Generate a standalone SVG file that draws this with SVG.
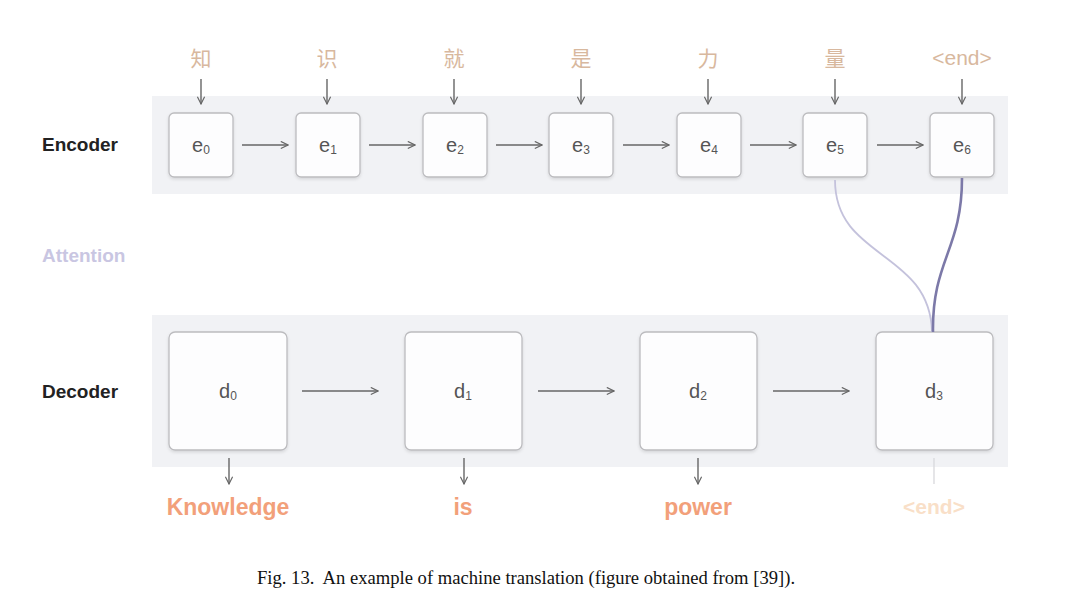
<svg xmlns="http://www.w3.org/2000/svg" width="1079" height="615" viewBox="0 0 1079 615">
<defs>
<marker id="ah" viewBox="0 0 10 10" refX="9" refY="5" markerWidth="9" markerHeight="9" markerUnits="userSpaceOnUse" orient="auto">
<path d="M1,1 L9,5 L1,9" fill="none" stroke="#666" stroke-width="1.3"/>
</marker>
<filter id="sh" x="-10%" y="-10%" width="120%" height="130%">
<feDropShadow dx="0" dy="1.5" stdDeviation="1.5" flood-color="#000" flood-opacity="0.12"/>
</filter>
</defs>
<style>
.band{fill:#f1f2f5}
.box{fill:#fdfdfe;stroke:#bcbcbf;stroke-width:1.3;filter:url(#sh)}
.lbl{font-family:"Liberation Sans",Arial,sans-serif;font-size:20px;fill:#555;text-anchor:middle}
.sub{font-size:12px}
.side{font-family:"Liberation Sans",Arial,sans-serif;font-size:19px;font-weight:bold;fill:#222}
.zh{font-family:"Liberation Sans","Noto Sans CJK SC",sans-serif;font-size:21px;fill:#d8b89e;text-anchor:middle}
.out{font-family:"Liberation Sans",Arial,sans-serif;font-size:23px;font-weight:bold;fill:#f2a07a;text-anchor:middle}
.arr{stroke:#666;stroke-width:1.4;fill:none;marker-end:url(#ah)}
.cap{font-family:"Liberation Serif","Times New Roman",serif;font-size:18.6px;fill:#111}
</style>
<rect x="0" y="0" width="1079" height="615" fill="#ffffff"/>
<rect class="band" x="152" y="96" width="856" height="98"/>
<rect class="band" x="152" y="315" width="856" height="152"/>

<text class="side" x="42" y="151">Encoder</text>
<text class="side" x="42" y="398">Decoder</text>
<text class="side" x="42" y="262" style="fill:#c9c6e2">Attention</text>

<g id="inputs">
<text class="zh" x="201" y="66">知</text>
<text class="zh" x="327" y="66">识</text>
<text class="zh" x="454" y="66">就</text>
<text class="zh" x="581" y="66">是</text>
<text class="zh" x="708" y="66">力</text>
<text class="zh" x="835" y="66">量</text>
<text class="zh" x="962" y="65" style="font-size:21px">&lt;end&gt;</text>
</g>

<g id="e0"><rect class="box" x="169" y="113" width="64" height="64" rx="5"/><text class="lbl" x="201" y="152">e<tspan class="sub" dy="2">0</tspan></text></g>
<g id="e1"><rect class="box" x="296" y="113" width="64" height="64" rx="5"/><text class="lbl" x="328" y="152">e<tspan class="sub" dy="2">1</tspan></text></g>
<g id="e2"><rect class="box" x="423" y="113" width="64" height="64" rx="5"/><text class="lbl" x="455" y="152">e<tspan class="sub" dy="2">2</tspan></text></g>
<g id="e3"><rect class="box" x="549" y="113" width="64" height="64" rx="5"/><text class="lbl" x="581" y="152">e<tspan class="sub" dy="2">3</tspan></text></g>
<g id="e4"><rect class="box" x="677" y="113" width="64" height="64" rx="5"/><text class="lbl" x="709" y="152">e<tspan class="sub" dy="2">4</tspan></text></g>
<g id="e5"><rect class="box" x="803" y="113" width="64" height="64" rx="5"/><text class="lbl" x="835" y="152">e<tspan class="sub" dy="2">5</tspan></text></g>
<g id="e6"><rect class="box" x="930" y="113" width="64" height="64" rx="5"/><text class="lbl" x="962" y="152">e<tspan class="sub" dy="2">6</tspan></text></g>

<g id="d0"><rect class="box" x="169" y="332" width="118" height="118" rx="6"/><text class="lbl" x="228" y="398">d<tspan class="sub" dy="2">0</tspan></text></g>
<g id="d1"><rect class="box" x="405" y="332" width="117" height="118" rx="6"/><text class="lbl" x="463" y="398">d<tspan class="sub" dy="2">1</tspan></text></g>
<g id="d2"><rect class="box" x="640" y="332" width="117" height="118" rx="6"/><text class="lbl" x="698" y="398">d<tspan class="sub" dy="2">2</tspan></text></g>
<g id="d3"><rect class="box" x="876" y="332" width="117" height="118" rx="6"/><text class="lbl" x="934" y="398">d<tspan class="sub" dy="2">3</tspan></text></g>

<g id="outputs">
<text class="out" x="228" y="515">Knowledge</text>
<text class="out" x="463" y="515">is</text>
<text class="out" x="698" y="515">power</text>
<text class="out" x="934" y="514" style="fill:#f9dfc8;font-size:21px">&lt;end&gt;</text>
</g>

<g id="connectors">
<line class="arr" x1="201" y1="79" x2="201" y2="104"/>
<line class="arr" x1="327" y1="79" x2="327" y2="104"/>
<line class="arr" x1="454" y1="79" x2="454" y2="104"/>
<line class="arr" x1="581" y1="79" x2="581" y2="104"/>
<line class="arr" x1="708" y1="79" x2="708" y2="104"/>
<line class="arr" x1="835" y1="79" x2="835" y2="104"/>
<line class="arr" x1="962" y1="79" x2="962" y2="104"/>

<line class="arr" x1="242" y1="145" x2="288" y2="145"/>
<line class="arr" x1="369" y1="145" x2="415" y2="145"/>
<line class="arr" x1="496" y1="145" x2="542" y2="145"/>
<line class="arr" x1="623" y1="145" x2="669" y2="145"/>
<line class="arr" x1="750" y1="145" x2="796" y2="145"/>
<line class="arr" x1="877" y1="145" x2="923" y2="145"/>

<line class="arr" x1="302" y1="391" x2="378" y2="391"/>
<line class="arr" x1="538" y1="391" x2="614" y2="391"/>
<line class="arr" x1="773" y1="391" x2="849" y2="391"/>

<line class="arr" x1="229" y1="458" x2="229" y2="484"/>
<line class="arr" x1="464" y1="458" x2="464" y2="484"/>
<line class="arr" x1="698" y1="458" x2="698" y2="484"/>
<line x1="934" y1="458" x2="934" y2="484" style="stroke:#d8d8dc;stroke-width:1.3"/>

<path d="M835,180 C835,260 930,250 932,332" fill="none" stroke="#c4c2dc" stroke-width="1.8"/>
<path d="M962,178 C962,250 932,260 933,332" fill="none" stroke="#7c79a8" stroke-width="2.6"/>
</g>

<text class="cap" x="257" y="584" xml:space="preserve">Fig. 13.  An example of machine translation (figure obtained from [39]).</text>
</svg>
